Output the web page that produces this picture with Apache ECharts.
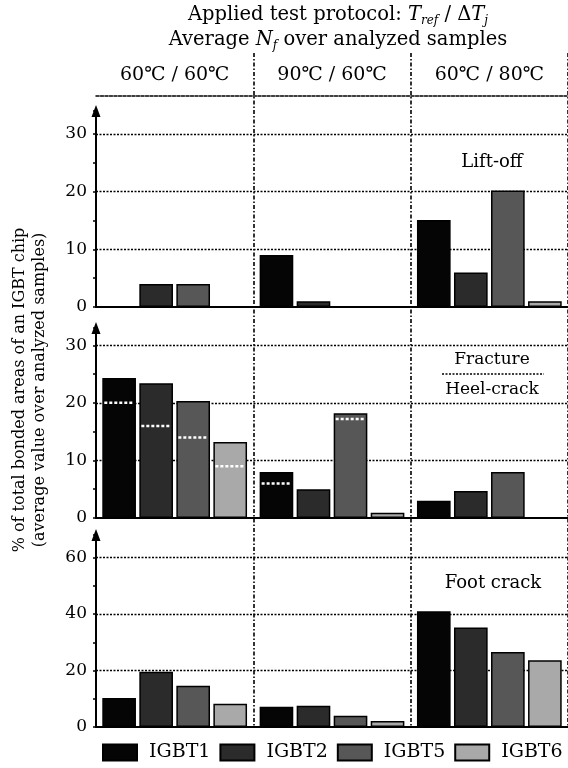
<!DOCTYPE html>
<html>
<head>
<meta charset="utf-8">
<script src="https://cdn.jsdelivr.net/npm/echarts@6/dist/echarts.min.js"></script>
<style>
html, body { margin: 0; padding: 0; background: #fff; }
#main { width: 568px; height: 768px; }
</style>
</head>
<body>
<div id="main"></div>
<script>
// test protocols (T_ref / dT_j) and devices
var protocols = ['60℃ / 60℃', '90℃ / 60℃', '60℃ / 80℃'];
var devices = ['IGBT1', 'IGBT2', 'IGBT5', 'IGBT6'];
var colors = ['#050505', '#2b2b2b', '#575757', '#a9a9a9'];

// % of bonded area, one row per device, one value per protocol
var liftOff = [
    [0, 9, 15.1],
    [4, 1, 6],
    [4, 0, 20.2],
    [0, 0, 1]
];
// fracture + heel-crack together (bar height)
var fracture = [
    [24.3, 8, 3],
    [23.4, 5, 4.7],
    [20.3, 18.2, 8],
    [13.2, 0.9, 0]
];
// heel-crack share (white dotted line inside the bar)
var heelCrack = [
    [20, 6, null],
    [16, null, null],
    [14, 17.2, null],
    [9, null, null]
];
var footCrack = [
    [10.3, 7.2, 41],
    [19.6, 7.5, 35.2],
    [14.6, 4, 26.6],
    [8.2, 2.1, 23.6]
];

var yMax = [34, 33, 68];
var yStep = [5, 5, 10];
var yLabelStep = [10, 10, 20];
var gridLines = [[10, 20, 30], [10, 20, 30], [20, 40, 60]];

var serif = 'DejaVu Serif';
var catGap = 0.08, barGap = 0.1;

var grids = [
    {left: 96, right: 0, top: 111, bottom: 461},
    {left: 96, right: 0, top: 328, bottom: 250},
    {left: 96, right: 0, top: 535, bottom: 41},
    {left: 96, right: 0, top: 53, bottom: 41}   // only for the dividers
];

var xAxes = [], yAxes = [], series = [];
for (var p = 0; p < 3; p++) {
    xAxes.push({
        type: 'category', gridIndex: p, data: protocols,
        axisLine: {lineStyle: {color: '#000', width: 2}},
        axisTick: {show: false}, axisLabel: {show: false}, splitLine: {show: false}
    });
    (function (p) {
        yAxes.push({
            type: 'value', gridIndex: p, min: 0, max: yMax[p], interval: yStep[p],
            axisLine: {show: true, lineStyle: {color: '#000', width: 2},
                symbol: ['none', 'triangle'], symbolSize: [9, 12]},
            axisTick: {show: true, length: 3, lineStyle: {color: '#000', width: 1.5}},
            axisLabel: {
                color: '#000', fontFamily: serif, fontSize: 17, margin: 9,
                formatter: function (v) {
                    return (v % yLabelStep[p] === 0) ? v : '';
                }
            },
            splitLine: {show: false}
        });
    })(p);
}
// header labels + top dotted line
xAxes.push({
    type: 'category', gridIndex: 0, position: 'top', offset: 15, data: protocols,
    axisLine: {lineStyle: {color: '#000', width: 1.5, type: [3, 1.5]}},
    axisTick: {show: false},
    axisLabel: {color: '#000', fontFamily: serif, fontSize: 19, margin: 11},
    splitLine: {show: false}
});
// vertical dividers between protocols
xAxes.push({
    type: 'category', gridIndex: 3, data: protocols, position: 'top',
    axisLine: {show: false}, axisTick: {show: false}, axisLabel: {show: false},
    splitLine: {
        show: true,
        interval: function (i) { return i === 1 || i === 2; },
        lineStyle: {color: '#000', width: 1.6, type: [4, 2, 1.5, 2]}
    }
});
yAxes.push({type: 'value', gridIndex: 3, min: 0, max: 1, show: false});

function markerItem(d) {
    return function (params, api) {
        var c = api.coord([api.value(0), api.value(1)]);
        var band = api.size([1, 0])[0];
        var usable = band * (1 - catGap);
        var w = usable / (4 + 3 * barGap);
        var x0 = c[0] - usable / 2 + d * w * (1 + barGap);
        return {
            type: 'line',
            shape: {x1: x0 + 2, y1: c[1], x2: x0 + w - 2, y2: c[1]},
            style: {stroke: '#fff', lineWidth: 2.5, lineDash: [3, 2]}
        };
    };
}

var panels = [liftOff, fracture, footCrack];
for (var p = 0; p < 3; p++) {
    for (var d = 0; d < 4; d++) {
        var s = {
            name: devices[d], type: 'bar', xAxisIndex: p, yAxisIndex: p,
            data: panels[p][d], barCategoryGap: '8%', barGap: '10%',
            itemStyle: {color: colors[d], borderColor: '#000', borderWidth: 1.5},
            emphasis: {disabled: true}
        };
        if (d === 0) {
            s.markLine = {
                silent: true, symbol: 'none', z: 1, label: {show: false},
                lineStyle: {color: '#000', type: [2, 1.5], width: 1.3},
                data: gridLines[p].map(function (v) { return {yAxis: v}; })
            };
        }
        series.push(s);
    }
}
for (var d = 0; d < 4; d++) {
    var pts = [];
    heelCrack[d].forEach(function (v, i) { if (v !== null) pts.push([i, v]); });
    series.push({
        type: 'custom', xAxisIndex: 1, yAxisIndex: 1, z: 5,
        renderItem: markerItem(d), data: pts, silent: true
    });
}

var txt = {fill: '#000', fontFamily: serif, fontSize: 18, textAlign: 'center', textVerticalAlign: 'middle'};
function label(x, y, text, extra) {
    var st = Object.assign({}, txt, {text: text}, extra || {});
    return {type: 'text', x: x, y: y, style: st};
}
var rich = {
    i: {fontFamily: serif, fontSize: 19.5, fontStyle: 'italic', fill: '#000'},
    s: {fontFamily: serif, fontSize: 12, fontStyle: 'italic', fill: '#000', padding: [11, 0, 0, 0]}
};

var myChart = echarts.init(document.getElementById('main'));
option = {
    animation: false,
    backgroundColor: '#fff',
    grid: grids,
    xAxis: xAxes,
    yAxis: yAxes,
    legend: {
        data: devices, left: 102, right: 0, top: 743, padding: 0,
        itemWidth: 34, itemHeight: 16, itemGap: 9, icon: 'rect',
        textStyle: {fontFamily: serif, fontSize: 19, color: '#000', padding: [0, 0, 0, 7]},
        selectedMode: false
    },
    series: series,
    graphic: [
        label(338, 15, 'Applied test protocol: {i|T}{s|ref} / Δ{i|T}{s|j}', {rich: rich, fontSize: 19.5}),
        label(338, 40, 'Average {i|N}{s|f} over analyzed samples', {rich: rich, fontSize: 19.5}),
        label(20, 390, '% of total bonded areas of an IGBT chip', {fontSize: 16}),
        label(40, 390, '(average value over analyzed samples)', {fontSize: 16}),
        label(492, 162, 'Lift-off'),
        label(492, 360, 'Fracture', {fontSize: 17}),
        {type: 'line', shape: {x1: 442, y1: 374, x2: 544, y2: 374},
            style: {stroke: '#000', lineWidth: 1.5, lineDash: [2, 1.5]}},
        label(492, 390, 'Heel-crack', {fontSize: 17}),
        label(493, 583, 'Foot crack')
    ]
};
// rotate the two y-axis name lines
option.graphic[2].rotation = Math.PI / 2;
option.graphic[3].rotation = Math.PI / 2;
myChart.setOption(option);
</script>
</body>
</html>
